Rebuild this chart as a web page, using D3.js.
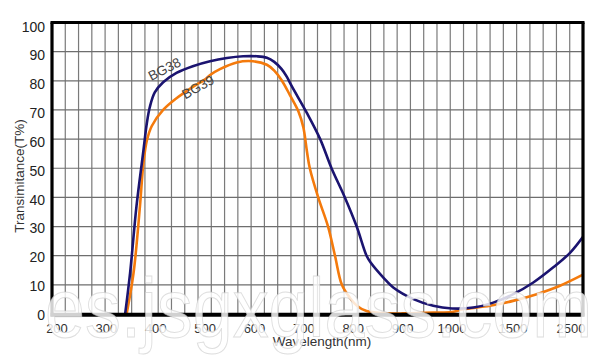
<!DOCTYPE html>
<html><head><meta charset="utf-8">
<script src="https://cdn.jsdelivr.net/npm/d3@7"></script>
<style>html,body{margin:0;padding:0;background:#fff}svg{display:block}</style>
</head><body>
<script>
// ---- data ----
const xTickLabels = [200,300,400,500,600,700,800,900,1000,1500,2500];
const yTickLabels = [0,10,20,30,40,50,60,70,80,90,100];
const seriesNames = ["BG38","BG39"];
const bg38 = [[338,0],[348,14],[361,37],[375,56],[382,65.5],[388,71],[398,76],[415,79.5],[442,82.7],[475,85],[510,86.7],[544,87.8],[577,88.4],[605,88.4],[625,87.9],[640,86.5],[655,84],[665,81.5],[676,78],[706,69],[733,60],[756,50],[783,40],[807,30],[827,20],[836,17.5],[861,12.5],[881,9.1],[922,5.1],[962,2.8],[1000,1.9],[1175,2.2],[1338,3.9],[1505,6.8],[1850,10.8],[2195,16],[2483,21],[2707,26.5]];
const bg39 = [[341,0],[355,14],[368,37],[375,51.7],[382,59.5],[392,64.5],[415,70],[442,74],[476,78],[500,80.5],[510,82],[530,84],[564,86.3],[597,86.7],[625,85.5],[640,83.5],[655,80.2],[672,75],[689,69.5],[699,64],[706,56],[712,50],[729,40],[749,30],[763,20],[777,10],[793,5.6],[810,2.5],[827,1],[860,0.3],[900,0.2],[962,0.5],[1000,0.7],[1090,1.6],[1311,2.8],[1500,4.5],[1909,6.8],[2310,9.7],[2707,13.5]];
const watermark = "es.jsgxglass.com";

const W = 600, H = 360;
const L = 52, R = 583, T = 22.5, B = 314;
const svg = d3.select("body").append("svg").attr("width", W).attr("height", H);

const x = d3.scaleLinear().domain([200,1000,1500,2500]).range([57,452,513,571]);
const y = d3.scaleLinear().domain([0,100]).range([B,T]);

// grid
const g = svg.append("g");
const nV = 40;
g.selectAll("line.v").data(d3.range(1,nV)).join("line")
  .attr("x1", i => L + (R-L)*i/nV).attr("x2", i => L + (R-L)*i/nV)
  .attr("y1", T).attr("y2", B)
  .attr("stroke", "#7a7a7a").attr("stroke-width", 1.2);
g.selectAll("line.h").data(yTickLabels.filter(v => v>0 && v<100)).join("line")
  .attr("x1", L).attr("x2", R).attr("y1", d => y(d)).attr("y2", d => y(d))
  .attr("stroke", "#6e6e6e").attr("stroke-width", 1.2);

// curves
svg.append("clipPath").attr("id","clip").append("rect")
  .attr("x", L).attr("y", T).attr("width", R-L).attr("height", B-T);
const line = d3.line().x(d => x(d[0])).y(d => y(d[1])).curve(d3.curveCatmullRom.alpha(0.5));
const cg = svg.append("g").attr("clip-path","url(#clip)");
cg.append("path").datum(bg39).attr("d", line).attr("fill","none")
  .attr("stroke","#f47a0c").attr("stroke-width",2.6);
cg.append("path").datum(bg38).attr("d", line).attr("fill","none")
  .attr("stroke","#1b1470").attr("stroke-width",2.6);

// frame
svg.append("line").attr("x1",L-1.5).attr("x2",R+1.5).attr("y1",T).attr("y2",T).attr("stroke","#000").attr("stroke-width",3.2);
svg.append("line").attr("x1",L).attr("x2",L).attr("y1",T).attr("y2",B+2.5).attr("stroke","#000").attr("stroke-width",3.2);
svg.append("line").attr("x1",R).attr("x2",R).attr("y1",T).attr("y2",B+2.5).attr("stroke","#000").attr("stroke-width",3.2);
svg.append("line").attr("x1",L-1.5).attr("x2",R+1.5).attr("y1",B+0.7).attr("y2",B+0.7).attr("stroke","#000").attr("stroke-width",4);

// series labels
svg.append("text").attr("transform","translate(165,70) rotate(-27)")
  .attr("text-anchor","middle").attr("dominant-baseline","middle")
  .attr("font-family","Liberation Sans, Arial, sans-serif").attr("font-size",13.5)
  .attr("fill","#444").text(seriesNames[0]);
svg.append("text").attr("transform","translate(198.5,88) rotate(-29)")
  .attr("text-anchor","middle").attr("dominant-baseline","middle")
  .attr("font-family","Liberation Sans, Arial, sans-serif").attr("font-size",13.5)
  .attr("fill","#444").text(seriesNames[1]);

// y tick labels
svg.append("g").selectAll("text").data(yTickLabels).join("text")
  .attr("x", 45).attr("y", d => y(d) + 1 + 3*d/100)
  .attr("text-anchor","end").attr("dominant-baseline","central")
  .attr("font-family","Liberation Sans, Arial, sans-serif").attr("font-size",14)
  .attr("fill","#222").text(d => d);

// x tick labels
svg.append("g").selectAll("text").data(xTickLabels).join("text")
  .attr("x", d => x(d)).attr("y", 333)
  .attr("text-anchor","middle")
  .attr("font-family","Liberation Sans, Arial, sans-serif").attr("font-size",13)
  .attr("fill","#333").text(d => d);

// axis titles
svg.append("text").attr("x",322).attr("y",346).attr("text-anchor","middle")
  .attr("font-family","Liberation Sans, Arial, sans-serif").attr("font-size",13.5)
  .attr("fill","#333").text("Wavelength(nm)");
svg.append("text").attr("transform","translate(24,176) rotate(-90)").attr("text-anchor","middle")
  .attr("font-family","Liberation Sans, Arial, sans-serif").attr("font-size",13.5)
  .attr("fill","#333").text("Transimitance(T%)");

// watermark
svg.append("text").attr("x",45).attr("y",337)
  .attr("font-family","Liberation Sans, Arial, sans-serif").attr("font-size",84)
  .attr("textLength",547).attr("lengthAdjust","spacingAndGlyphs")
  .attr("fill","#fff").attr("fill-opacity",0.82)
  .attr("stroke","#c8c8c8").attr("stroke-opacity",0.6).attr("stroke-width",1)
  .text(watermark);
</script>
</body></html>
